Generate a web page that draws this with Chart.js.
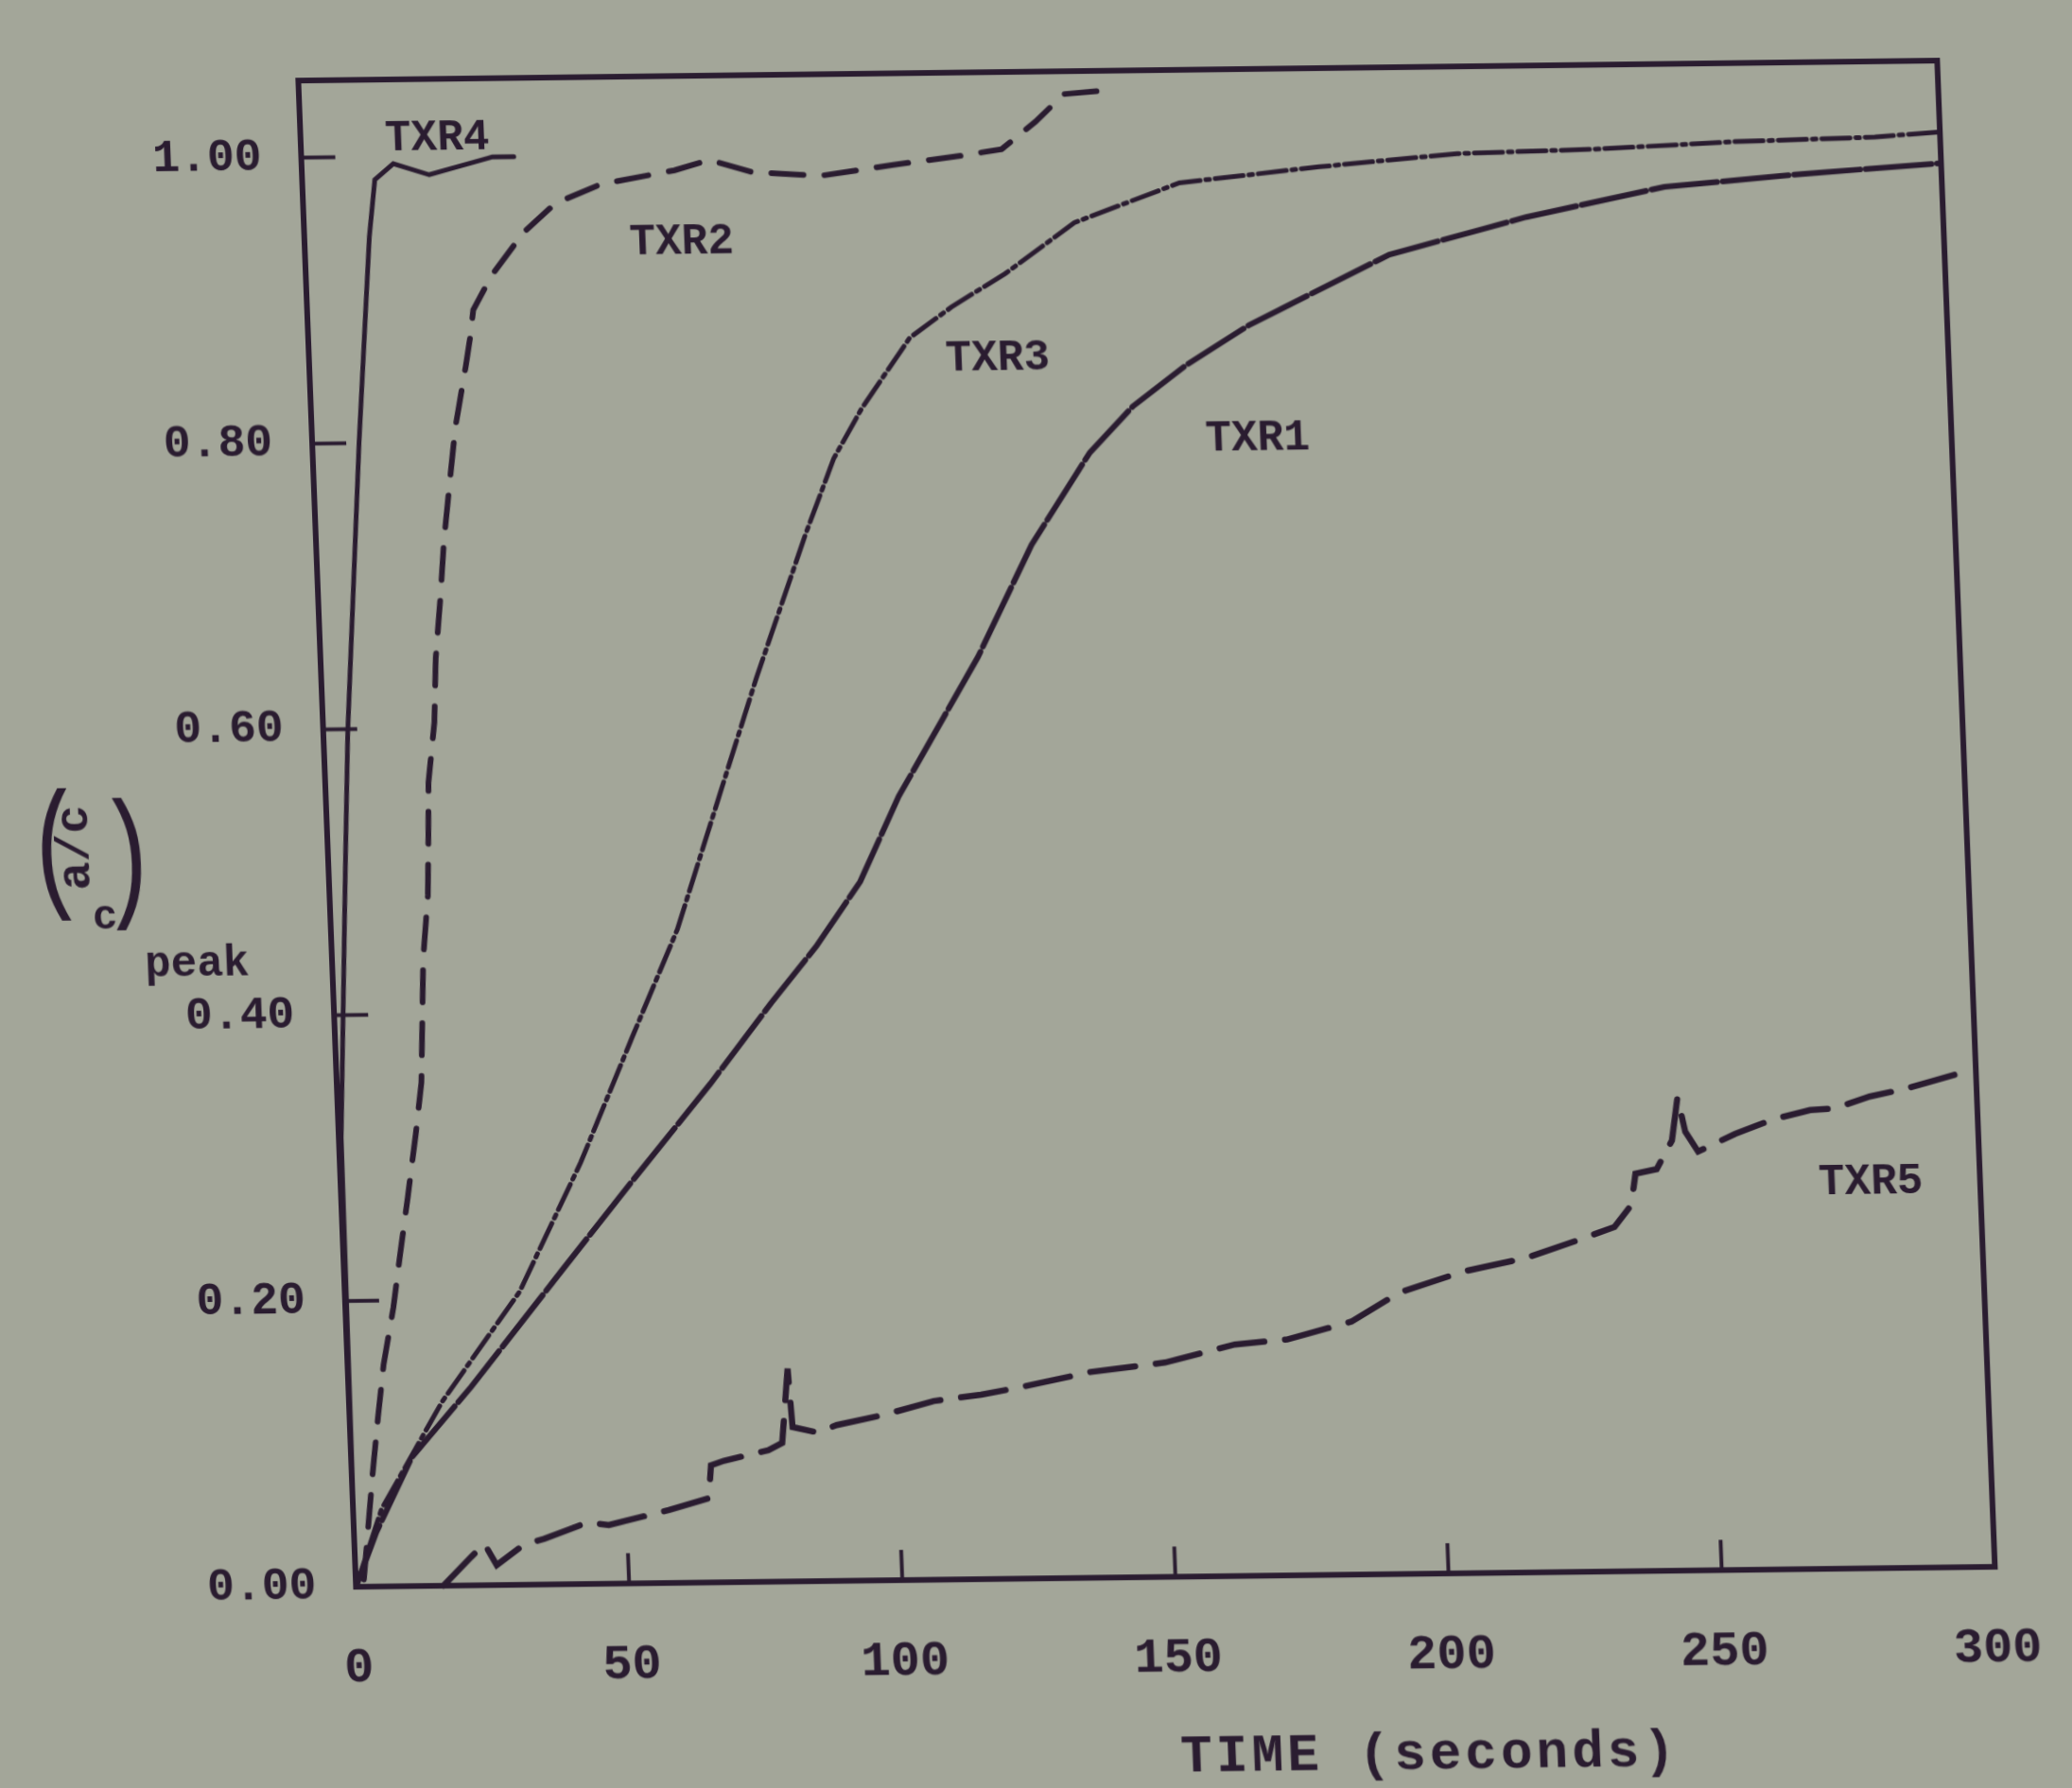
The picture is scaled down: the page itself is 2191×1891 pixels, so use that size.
<!DOCTYPE html>
<html>
<head>
<meta charset="utf-8">
<script src="https://cdn.jsdelivr.net/npm/chart.js@4.4.1/dist/chart.umd.min.js"></script>
<style>
  html, body { margin: 0; padding: 0; overflow: hidden; background: #a3a699; }
  #wrap {
    position: absolute; left: 0; top: 0;
    width: 2191px; height: 1960px;
    transform-origin: 0 0;
    /* the photographed page is slightly sheared */
    transform: matrix(1, -0.0122, 0.0383, 1, 0, 0);
  }
</style>
</head>
<body>
<div id="wrap"><canvas id="chart"></canvas></div>
<script>
// time (seconds) / (a/c)peak
const txr1Time  = [0, 4.1, 11.1, 22.5, 40.0, 53.3, 68.4, 80.1, 88.7, 97.2, 104.8, 120.3, 130.9, 142.2, 150.4, 160.3, 172.3, 198.4, 223.7, 249.2, 275.0, 299.4];
const txr1Ratio = [0, 0.038, 0.090, 0.139, 0.220, 0.281, 0.349, 0.405, 0.444, 0.489, 0.548, 0.645, 0.723, 0.787, 0.819, 0.847, 0.875, 0.923, 0.948, 0.968, 0.976, 0.982];

const txr2Time  = [1.5, 3.8, 5.2, 6.6, 8.8, 10.4, 12.2, 14.1, 15.5, 16.7, 18.0, 18.5, 18.9, 20.4, 21.1, 22.4, 23.4, 24.9, 26.3, 28.6, 29.7, 30.4, 34.0, 40.2, 46.2, 54.7, 68.2, 74.6, 82.5, 95.0, 108.3, 121.2, 128.2, 134.6, 140.0, 146.8];
const txr2Ratio = [0.005, 0.078, 0.118, 0.155, 0.195, 0.232, 0.272, 0.316, 0.352, 0.439, 0.483, 0.524, 0.562, 0.604, 0.649, 0.692, 0.730, 0.772, 0.810, 0.852, 0.874, 0.892, 0.916, 0.946, 0.966, 0.979, 0.988, 0.995, 0.986, 0.983, 0.990, 0.996, 1.000, 1.019, 1.038, 1.040];

const txr3Time  = [0, 5.2, 17.1, 32.0, 44.1, 54.5, 63.4, 79.6, 89.7, 95.3, 100.8, 110.1, 117.9, 128.0, 141.0, 160.5, 186.2, 211.5, 236.8, 262.3, 288.1, 299.6];
const txr3Ratio = [0, 0.054, 0.129, 0.205, 0.295, 0.383, 0.457, 0.632, 0.733, 0.785, 0.820, 0.869, 0.890, 0.913, 0.948, 0.975, 0.985, 0.993, 0.995, 0.999, 1.001, 1.004];

const txr4Time  = [0, 0.2, 0.44, 3.25, 4.5, 8.6, 11.9, 13.3, 16.8, 23.3, 35.0, 38.9];
const txr4Ratio = [0, 0.15, 0.314, 0.514, 0.599, 0.801, 0.944, 0.984, 0.995, 0.987, 0.999, 0.999];

const txr5Time  = [16.0, 21.3, 23.8, 25.9, 31.0, 34.8, 42.8, 46.7, 57.8, 65.2, 65.8, 68.2, 76.4, 79.0, 80.5, 81.0, 85.5, 89.1, 98.1, 107.0, 115.7, 123.1, 135.9, 149.6, 162.5, 172.1, 184.0, 193.0, 204.7, 216.4, 226.0, 232.8, 236.0, 237.0, 240.9, 243.9, 245.2, 246.4, 248.6, 255.5, 262.6, 269.4, 273.9, 280.4, 286.9, 294.6, 298.4];
const txr5Ratio = [0, 0.020, 0.029, 0.014, 0.028, 0.032, 0.043, 0.041, 0.051, 0.059, 0.082, 0.085, 0.092, 0.097, 0.149, 0.108, 0.104, 0.109, 0.116, 0.125, 0.129, 0.134, 0.144, 0.150, 0.162, 0.165, 0.177, 0.197, 0.211, 0.220, 0.232, 0.241, 0.256, 0.278, 0.281, 0.301, 0.331, 0.307, 0.293, 0.305, 0.315, 0.321, 0.322, 0.330, 0.335, 0.343, 0.347];

const xTicks = [0, 50, 100, 150, 200, 250, 300];
const yTicks = [0, 0.2, 0.4, 0.6, 0.8, 1.0];

const INK = '#2a1c30';
const MONO = '"Liberation Mono", "DejaVu Sans Mono", monospace';

function pts(t, r) {
    return t.map((x, i) => ({ x: x, y: r[i] }));
}

// curve names written next to the lines (in data units)
const curveLabels = [
    { text: 'TXR4', x: 25, y: 1.012 },
    { text: 'TXR2', x: 69, y: 0.937 },
    { text: 'TXR3', x: 126, y: 0.853 },
    { text: 'TXR1', x: 173, y: 0.795 },
    { text: 'TXR5', x: 280, y: 0.270 }
];

const decorations = {
    id: 'decorations',
    afterDraw(chart) {
        const ctx = chart.ctx;
        const a = chart.chartArea;
        const xs = chart.scales.x;
        const ys = chart.scales.y;
        ctx.save();
        ctx.strokeStyle = INK;
        ctx.fillStyle = INK;

        // frame
        ctx.lineWidth = 6;
        ctx.strokeRect(a.left, a.top, a.right - a.left, a.bottom - a.top);

        // inward ticks
        ctx.lineWidth = 4;
        xTicks.forEach(v => {
            const px = xs.getPixelForValue(v);
            ctx.beginPath();
            ctx.moveTo(px, a.bottom);
            ctx.lineTo(px, a.bottom - 32);
            ctx.stroke();
        });
        yTicks.forEach(v => {
            const py = ys.getPixelForValue(v);
            ctx.beginPath();
            ctx.moveTo(a.left, py);
            ctx.lineTo(a.left + 36, py);
            ctx.stroke();
        });

        // curve names
        ctx.font = 'bold 46px ' + MONO;
        ctx.textAlign = 'center';
        ctx.textBaseline = 'middle';
        curveLabels.forEach(l => {
            ctx.fillText(l.text, xs.getPixelForValue(l.x), ys.getPixelForValue(l.y));
        });

        // x axis title
        ctx.font = 'bold 56px ' + MONO;
        ctx.letterSpacing = '4px';
        ctx.fillText('TIME (seconds)', 1440, 1874);
        ctx.letterSpacing = '0px';

        // y axis title: (a/c over c) peak
        ctx.font = '150px ' + MONO;
        ctx.save();
        ctx.translate(24, 903);
        ctx.scale(0.7, 1);
        ctx.fillText('(', 0, 0);
        ctx.restore();
        ctx.save();
        ctx.translate(100, 914);
        ctx.scale(0.7, 1);
        ctx.fillText(')', 0, 0);
        ctx.restore();
        ctx.save();
        ctx.translate(46, 897);
        ctx.rotate(-Math.PI / 2);
        ctx.font = 'bold 50px ' + MONO;
        ctx.fillText('a/c', 0, 0);
        ctx.restore();
        ctx.font = 'bold 44px ' + MONO;
        ctx.fillText('c', 74, 972);
        ctx.textAlign = 'left';
        ctx.textBaseline = 'alphabetic';
        ctx.font = 'bold 46px ' + MONO;
        ctx.fillText('peak', 114, 1034);
        ctx.restore();
    }
};

Chart.defaults.font.family = MONO;
Chart.defaults.font.weight = 'bold';
Chart.defaults.color = INK;

function series(label, t, r, dash, width) {
    return {
        label: label,
        data: pts(t, r),
        borderColor: INK,
        borderWidth: width,
        borderDash: dash,
        borderCapStyle: 'round',
        pointRadius: 0,
        tension: 0,
        fill: false,
        clip: 12
    };
}

new Chart(document.getElementById('chart'), {
    type: 'line',
    data: {
        datasets: [
            series('TXR1', txr1Time, txr1Ratio, [70, 6], 6),
            series('TXR2', txr2Time, txr2Ratio, [34, 22], 6),
            series('TXR3', txr3Time, txr3Ratio, [30, 6, 4, 6], 5),
            series('TXR4', txr4Time, txr4Ratio, [], 5),
            series('TXR5', txr5Time, txr5Ratio, [48, 22], 6.5)
        ]
    },
    options: {
        responsive: true,
        maintainAspectRatio: false,
        animation: false,
        layout: { padding: { left: 0, top: 89, right: 146, bottom: 0 } },
        plugins: {
            legend: { display: false },
            tooltip: { enabled: false }
        },
        scales: {
            x: {
                type: 'linear',
                min: 0,
                max: 300,
                afterBuildTicks: s => { s.ticks = xTicks.map(v => ({ value: v })); },
                afterFit: s => { s.height = 278; },
                grid: { display: false },
                border: { display: false },
                ticks: {
                    padding: 48,
                    maxRotation: 0,
                    font: { size: 52, weight: 'bold' },
                    callback: v => String(v)
                }
            },
            y: {
                min: 0,
                max: 1.054,
                afterBuildTicks: s => { s.ticks = yTicks.map(v => ({ value: v })); },
                afterFit: s => { s.width = 312; },
                grid: { display: false },
                border: { display: false },
                ticks: {
                    padding: 34,
                    font: { size: 48, weight: 'bold' },
                    callback: v => v.toFixed(2)
                }
            }
        }
    },
    plugins: [decorations]
});
</script>
</body>
</html>
